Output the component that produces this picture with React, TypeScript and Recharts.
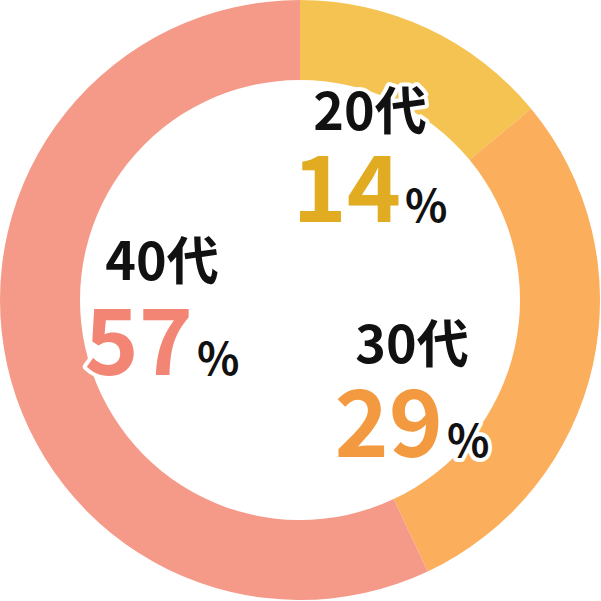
import React from "react";
import { PieChart, Pie, Cell } from "recharts";

const categories = ["20代", "30代", "40代"];
const values = [14, 29, 57];
const sliceColors = ["#F4C352", "#FBAE5B", "#F59A88"];
const numberColors = ["#E1AB22", "#F39A40", "#F28574"];

// label anchor offsets relative to pie centre (dx, dy for title line, dy for number line)
const labelOffsets = [
  { dx: 70, dyTitle: -170, dyNum: -78 },
  { dx: 112, dyTitle: 63, dyNum: 157 },
  { dx: -138, dyTitle: -20, dyNum: 75 },
];

const data = categories.map((name, i) => ({ name, value: values[i] }));

const FONT = "'Noto Sans CJK JP', 'Noto Sans', sans-serif";

const renderLabel = (props: any) => {
  const { cx, cy, index } = props;
  const o = labelOffsets[index];
  const common = {
    stroke: "#fff",
    strokeWidth: 8,
    strokeLinejoin: "round" as const,
    paintOrder: "stroke",
    fontFamily: FONT,
    fontWeight: 700,
    textAnchor: "middle" as const,
  };
  return (
    <g key={`lbl-${index}`}>
      <text x={cx + o.dx} y={cy + o.dyTitle} fill="#111" fontSize={52} {...common}>
        {categories[index]}
      </text>
      <text x={cx + o.dx} y={cy + o.dyNum} {...common}>
        <tspan fill={numberColors[index]} fontSize={92}>
          {values[index]}
        </tspan>
        <tspan fill="#111" fontSize={44} dx={4}>
          %
        </tspan>
      </text>
    </g>
  );
};

export default function App() {
  return (
    <div style={{ position: "absolute", left: 0, top: 0, width: 601, height: 601, background: "#fff" }}>
      <PieChart width={601} height={601} margin={{ top: 0, right: 0, bottom: 0, left: 0 }}>
        <Pie
          data={data}
          dataKey="value"
          nameKey="name"
          cx={300}
          cy={300}
          innerRadius={220}
          outerRadius={300}
          startAngle={90}
          endAngle={-270}
          stroke="none"
          label={renderLabel}
          labelLine={false}
          isAnimationActive={false}
        >
          {data.map((d, i) => (
            <Cell key={d.name} fill={sliceColors[i]} />
          ))}
        </Pie>
      </PieChart>
    </div>
  );
}
